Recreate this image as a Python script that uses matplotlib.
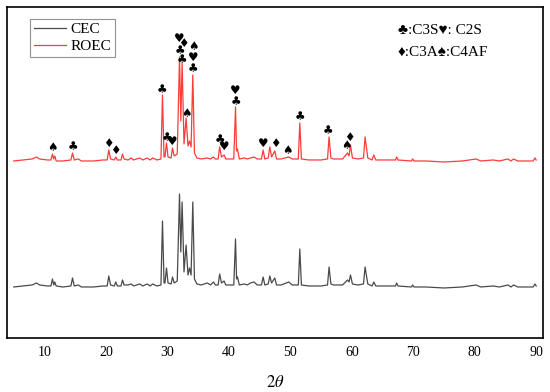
import matplotlib
matplotlib.use("Agg")
import matplotlib.pyplot as plt

# 2theta grid (deg) and intensities above baseline (a.u.)
two_theta = [5.0, 6.5, 8.0, 8.7, 9.2, 10.5, 11.05, 11.3, 11.5, 11.68, 11.9, 13.0,
             14.3, 14.56, 14.85, 15.5, 16.0, 18.0, 19.5, 20.2, 20.46, 20.75, 21.35,
             21.6, 21.85, 22.45, 22.7, 22.95, 23.6, 24.1, 24.5, 25.5, 26.0, 26.7,
             27.2, 27.6, 28.3, 28.95, 29.2, 29.45, 29.6, 29.85, 30.1, 30.6, 30.83,
             31.1, 31.6, 31.97, 32.18, 32.39, 32.7, 33.04, 33.35, 33.6, 33.85, 34.13,
             34.4, 34.8, 35.5, 36.5, 37.0, 37.5, 37.8, 38.25, 38.5, 38.8, 39.22,
             39.5, 40.8, 41.08, 41.25, 41.4, 41.7, 42.5, 43.0, 43.5, 44.1, 44.6,
             45.3, 45.57, 45.85, 46.4, 46.66, 46.95, 47.47, 47.75, 48.5, 49.75,
             50.3, 51.3, 51.54, 51.8, 53.0, 55.0, 56.05, 56.3, 56.6, 57.0, 58.5,
             59.3, 59.55, 59.79, 60.1, 61.0, 61.9, 62.16, 62.6, 63.3, 63.58, 63.9,
             65.0, 67.1, 67.3, 67.5, 69.7, 69.9, 70.1, 72.0, 75.0, 78.0, 80.2,
             81.0, 83.0, 84.0, 85.4, 85.9, 86.3, 87.0, 89.5, 89.8, 90.0]
cec = [0, 1, 2, 4, 2, 1, 1, 8, 2, 5, 1, 0,
       1, 9, 1, 2, 0, 0, 1, 1, 11, 2, 1,
       5, 1, 1, 7, 2, 2, 3, 1, 3, 1, 3,
       1, 3, 1, 2, 66, 4, 4, 19, 4, 3, 10,
       4, 6, 93, 35, 85, 15, 42, 12, 19, 12, 85,
       8, 3, 2, 4, 2, 5, 2, 2, 13, 4, 6,
       2, 2, 48, 8, 10, 2, 3, 2, 4, 5, 2,
       2, 10, 2, 3, 11, 4, 9, 2, 2, 5,
       2, 2, 38, 2, 1, 1, 2, 20, 3, 2, 2,
       7, 5, 12, 3, 2, 3, 20, 3, 1, 5, 1,
       1, 1, 4, 1, 0, 2, 0, 0, -1, 0, 2,
       0, 1, 0, 2, 0, 2, 0, 0, 3, 1]
roec = [0, 1, 2, 4, 2, 1, 1, 7, 2, 5, 0, 0,
        1, 8, 1, 2, 0, 0, 1, 1, 11, 2, 1,
        4, 1, 1, 7, 2, 1, 3, 1, 3, 1, 3,
        1, 3, 1, 2, 66, 4, 4, 18, 4, 3, 13,
        5, 7, 104, 40, 98, 17, 43, 15, 20, 14, 86,
        8, 3, 2, 3, 2, 4, 2, 2, 14, 4, 6,
        2, 2, 54, 10, 12, 2, 3, 2, 3, 4, 2,
        2, 11, 2, 3, 14, 4, 10, 2, 2, 4,
        2, 2, 38, 2, 1, 1, 2, 24, 3, 2, 2,
        8, 5, 16, 3, 2, 3, 24, 3, 1, 6, 1,
        1, 1, 4, 1, 0, 2, 0, 0, -1, 0, 2,
        0, 1, 0, 2, 0, 2, 0, 0, 3, 1]

# phase markers on the ROEC pattern: symbol, 2theta, height
mark_sym = ["♠", "♣", "♦", "♦", "♣", "♣", "♥", "♥", "♦", "♣", "♣", "♠",
            "♠", "♥", "♣", "♣", "♥", "♥", "♣", "♥", "♦", "♠", "♣", "♣",
            "♠", "♦"]
mark_x = [11.3, 14.56, 20.46, 21.6, 29.13, 29.85, 30.83, 31.97, 32.62, 31.97,
          32.39, 33.04, 34.18, 34.18, 34.18, 38.47, 39.22, 41.08, 41.08, 45.57,
          47.58, 49.54, 51.54, 56.15, 59.14, 59.67]
mark_y = [190, 191, 194, 187, 248, 200, 196, 299, 294, 287, 278, 224,
          291, 280, 269, 198, 191, 247, 236, 194, 194, 187, 221, 207,
          192, 200]

cec_offset = 51
roec_offset = 177

plt.rcParams['mathtext.fontset'] = 'stix'
serif = ['Liberation Serif', 'DejaVu Sans']

fig = plt.figure(figsize=(5.5, 3.92), dpi=100)
ax = fig.add_axes([0.0127, 0.1378, 0.9745, 0.8444])

ax.plot(two_theta, [v + cec_offset for v in cec], color='#4a4a4a', lw=0.9, label='CEC')
ax.plot(two_theta, [v + roec_offset for v in roec], color='#ff3b3b', lw=0.9, label='ROEC')

for s, x, y in zip(mark_sym, mark_x, mark_y):
    ax.text(x, y, s, ha='center', va='center', fontsize=8.5, family='DejaVu Sans', color='black')

ax.text(0.729, 0.928, "♣:C3S♥: C2S", transform=ax.transAxes, ha='left', va='center',
        fontsize=11, family=serif)
ax.text(0.729, 0.864, "♦:C3A♠:C4AF", transform=ax.transAxes, ha='left', va='center',
        fontsize=11, family=serif)

ax.set_xlim(3.9, 91.1)
ax.set_ylim(0, 331)
ax.set_xticks([10, 20, 30, 40, 50, 60, 70, 80, 90])
ax.set_yticks([])
ax.tick_params(axis='x', length=0, pad=6, labelsize=10)
for lab in ax.get_xticklabels():
    lab.set_family('Liberation Serif')
for sp in ax.spines.values():
    sp.set_linewidth(1.2)
ax.set_xlabel(r'$2\theta$', fontsize=12, labelpad=10)

leg = ax.legend(loc='upper left', bbox_to_anchor=(0.043, 0.964), borderaxespad=0,
                fancybox=False, edgecolor='#777777', prop={'family': 'Liberation Serif', 'size': 11},
                handlelength=2.1, handletextpad=0.3, borderpad=0.25, labelspacing=0.2)
leg.get_frame().set_linewidth(0.8)

fig.savefig('out.png', dpi=100)
